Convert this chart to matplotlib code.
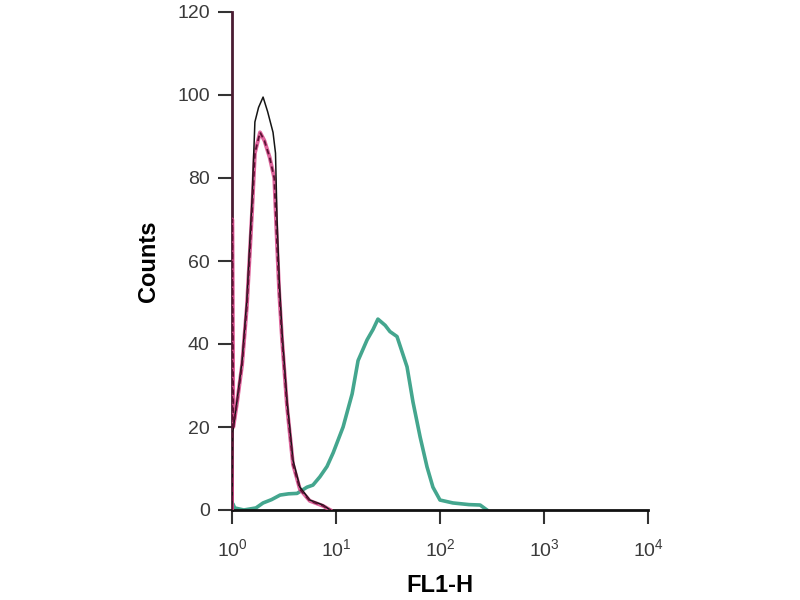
import numpy as np
import matplotlib.pyplot as plt
from matplotlib.ticker import FixedLocator, NullLocator

plt.rcParams["font.family"] = ["Liberation Sans", "DejaVu Sans"]
plt.rcParams["mathtext.default"] = "regular"

# histogram outlines (FL1-H value, counts)
control_x = [1.0, 1.02, 1.12, 1.25, 1.39, 1.56, 1.66, 1.80, 1.99, 2.20, 2.48,
             2.62, 2.71, 2.85, 3.03, 3.38, 3.86, 4.5, 5.6, 7.5, 8.8]
control_y = [0, 19, 26.5, 36, 50.7, 75, 93.5, 97, 99.5, 96, 91,
             86, 70, 55, 42.7, 26.5, 12, 5.5, 2.4, 1.2, 0]

isotype_x = [1.0, 1.005, 1.03, 1.12, 1.25, 1.39, 1.56, 1.66, 1.86, 2.05, 2.30,
             2.55, 2.71, 2.85, 3.03, 3.38, 3.86, 4.5, 5.6, 7.5, 8.8]
isotype_y = [0, 70, 20, 26, 35, 49, 72, 86, 91, 89, 85,
             80, 64, 52, 41, 25, 11, 5, 2.2, 1, 0]

antibody_x = [1.0, 1.02, 1.06, 1.3, 1.7, 1.99, 2.4, 2.9, 3.5, 4.22, 5.26, 6.0,
              7.0, 8.2, 9.4, 11.7, 14.3, 16.3, 19.9, 22.7, 25.3, 29.7,
              33.0, 38.6, 48.2, 55.0, 64.4, 75.0, 85.5, 100.0, 133.0, 190.0,
              243.0, 283.0]
antibody_y = [0, 1.5, 0.5, 0, 0.5, 1.7, 2.5, 3.6, 3.9, 4.0, 5.5, 6.0,
              8.0, 10.5, 13.8, 20.0, 28.0, 36.0, 41.0, 43.5, 46.0, 44.5,
              43.0, 41.8, 34.5, 26.0, 17.6, 10.4, 5.5, 2.4, 1.7, 1.3,
              1.2, 0]

y_ticks = [0, 20, 40, 60, 80, 100, 120]
x_ticks = [1, 10, 100, 1000, 10000]
x_labels = ["$10^0$", "$10^1$", "$10^2$", "$10^3$", "$10^4$"]

fig = plt.figure(figsize=(8, 6), dpi=100)
ax = fig.add_axes([0.29, 0.15, 0.52, 0.83])

ax.plot(antibody_x, antibody_y, color="#2f9c82", lw=2.6, alpha=0.9, zorder=2)
ax.plot(isotype_x, isotype_y, color="#d8488a", lw=2.8, alpha=0.85, zorder=3)
ax.plot(control_x, control_y, color="#151515", lw=1.1, zorder=4)
ax.plot(isotype_x, isotype_y, color="#5e1234", lw=1.3, dashes=(3, 2), zorder=5)

ax.set_xscale("log")
ax.set_xlim(1, 10000)
ax.set_ylim(0, 120)
ax.xaxis.set_major_locator(FixedLocator(x_ticks))
ax.xaxis.set_minor_locator(NullLocator())
ax.set_xticklabels(x_labels)
ax.set_yticks(y_ticks)

for side in ["top", "right"]:
    ax.spines[side].set_visible(False)
ax.spines["left"].set_color("#4a1c32")
ax.spines["left"].set_linewidth(2.0)
ax.spines["bottom"].set_color("#111111")
ax.spines["bottom"].set_linewidth(2.0)

ax.tick_params(axis="both", direction="out", length=10, width=1.5,
               colors="#333333", labelsize=14, labelcolor="#3a3a3a")
ax.tick_params(axis="x", pad=10)
ax.tick_params(axis="y", pad=6)

ax.set_ylabel("Counts", fontsize=17, fontweight="bold", labelpad=12)
ax.set_xlabel("FL1-H", fontsize=17, fontweight="bold", labelpad=10)

fig.savefig("out.png", dpi=100)
